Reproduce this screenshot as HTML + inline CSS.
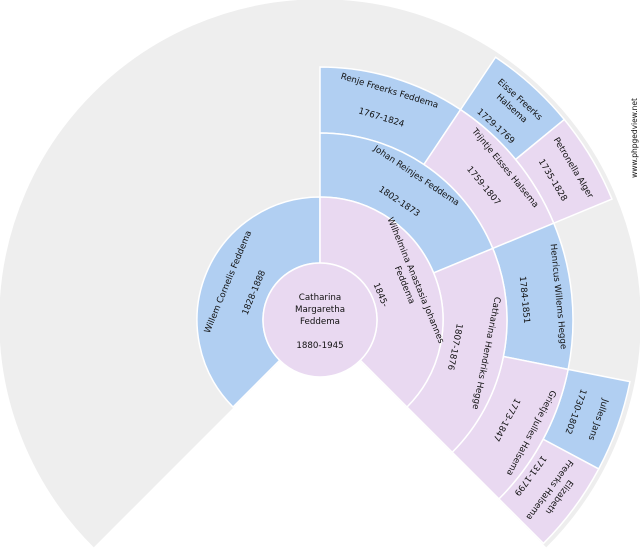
<!DOCTYPE html>
<html><head><meta charset="utf-8"><style>
html,body{margin:0;padding:0;background:#fff;width:640px;height:550px;overflow:hidden}
svg text{font-family:"DejaVu Sans","Liberation Sans",sans-serif;font-size:8.7px;fill:#111;text-anchor:middle}
</style></head><body>
<svg id="s" width="640" height="550" viewBox="0 0 640 550" xmlns="http://www.w3.org/2000/svg"></svg>
<script>
var cx=320,cy=320,S=document.getElementById('s'),NS='http://www.w3.org/2000/svg';
function P(a,r){a=a*Math.PI/180;return [cx+r*Math.sin(a),cy-r*Math.cos(a)];}
function sector(a0,a1,r0,r1,fill,stroke){
 var p1=P(a0,r1),p2=P(a1,r1),p3=P(a1,r0),p4=P(a0,r0),lg=(a1-a0)>180?1:0;
 var d='M'+p1+' A'+r1+','+r1+' 0 '+lg+' 1 '+p2+' L'+p3+' A'+r0+','+r0+' 0 '+lg+' 0 '+p4+' Z';
 var e=document.createElementNS(NS,'path');e.setAttribute('d',d);e.setAttribute('fill',fill);
 e.setAttribute('stroke',stroke||'#fff');e.setAttribute('stroke-width','1.5');S.appendChild(e);}
function txt(mid,lines){
 var g=document.createElementNS(NS,'g');g.setAttribute('transform','translate('+cx+','+cy+') rotate('+mid+')');
 lines.forEach(function(l){var t=document.createElementNS(NS,'text');t.setAttribute('x',0);t.setAttribute('y',-l[1]+3);t.textContent=l[0];g.appendChild(t);});
 S.appendChild(g);}
var B='#b1cff2',K='#e9d9f1';
sector(-135,135,0,320,'#eeeeee','#eeeeee');
sector(33.75,50.625,253,316,B);sector(50.625,67.5,253,316,K);
sector(101.25,118.125,253,316,B);sector(118.125,135,253,316,K);
sector(0,33.75,187,253,B);sector(33.75,67.5,187,253,K);sector(67.5,101.25,187,253,B);sector(101.25,135,187,253,K);
sector(0,67.5,123,187,B);sector(67.5,135,123,187,K);
sector(-135,0,57,123,B);sector(0,135,57,123,K);
var c=document.createElementNS(NS,'circle');c.setAttribute('cx',cx);c.setAttribute('cy',cy);c.setAttribute('r',57);c.setAttribute('fill',K);c.setAttribute('stroke','#fff');c.setAttribute('stroke-width','1.5');S.appendChild(c);
txt(0,[['Catharina',23],['Margaretha',11],['Feddema',-1],['1880-1945',-25]]);
txt(-67.5,[['Willem Cornelis Feddema',100],['1828-1888',72]]);
txt(67.5,[['Wilhelmina Anastasia Johannes',104],['Feddema',92],['1845-',66]]);
txt(33.75,[['Johan Reinjes Feddema',174],['1802-1873',143]]);
txt(101.25,[['Catharina Hendriks Hegge',170],['1807-1876',138]]);
txt(16.875,[['Renje Freerks Feddema',240],['1767-1824',212]]);
txt(50.625,[['Trijntje Eisses Halsema',240],['1759-1807',212]]);
txt(84.375,[['Henricus Willems Hegge',240],['1784-1851',206]]);
txt(118.125,[['Grietje Julles Halsema',240],['1773-1847',212]]);
txt(42.2,[['Eisse Freerks',298],['Halsema',286],['1729-1769',262]]);
txt(59,[['Petronella Alger',296],['1735-1828',272]]);
txt(109.7,[['Julles Jans',296],['1730-1802',272]]);
txt(126.5,[['Elizabeth',298],['Freerks Halsema',286],['1731-1799',262]]);
var w=document.createElementNS(NS,'text');w.setAttribute('transform','translate(637,138) rotate(-90)');w.setAttribute('style','font-size:7.5px');w.textContent='www.phpgedview.net';S.appendChild(w);
</script>
</body></html>
